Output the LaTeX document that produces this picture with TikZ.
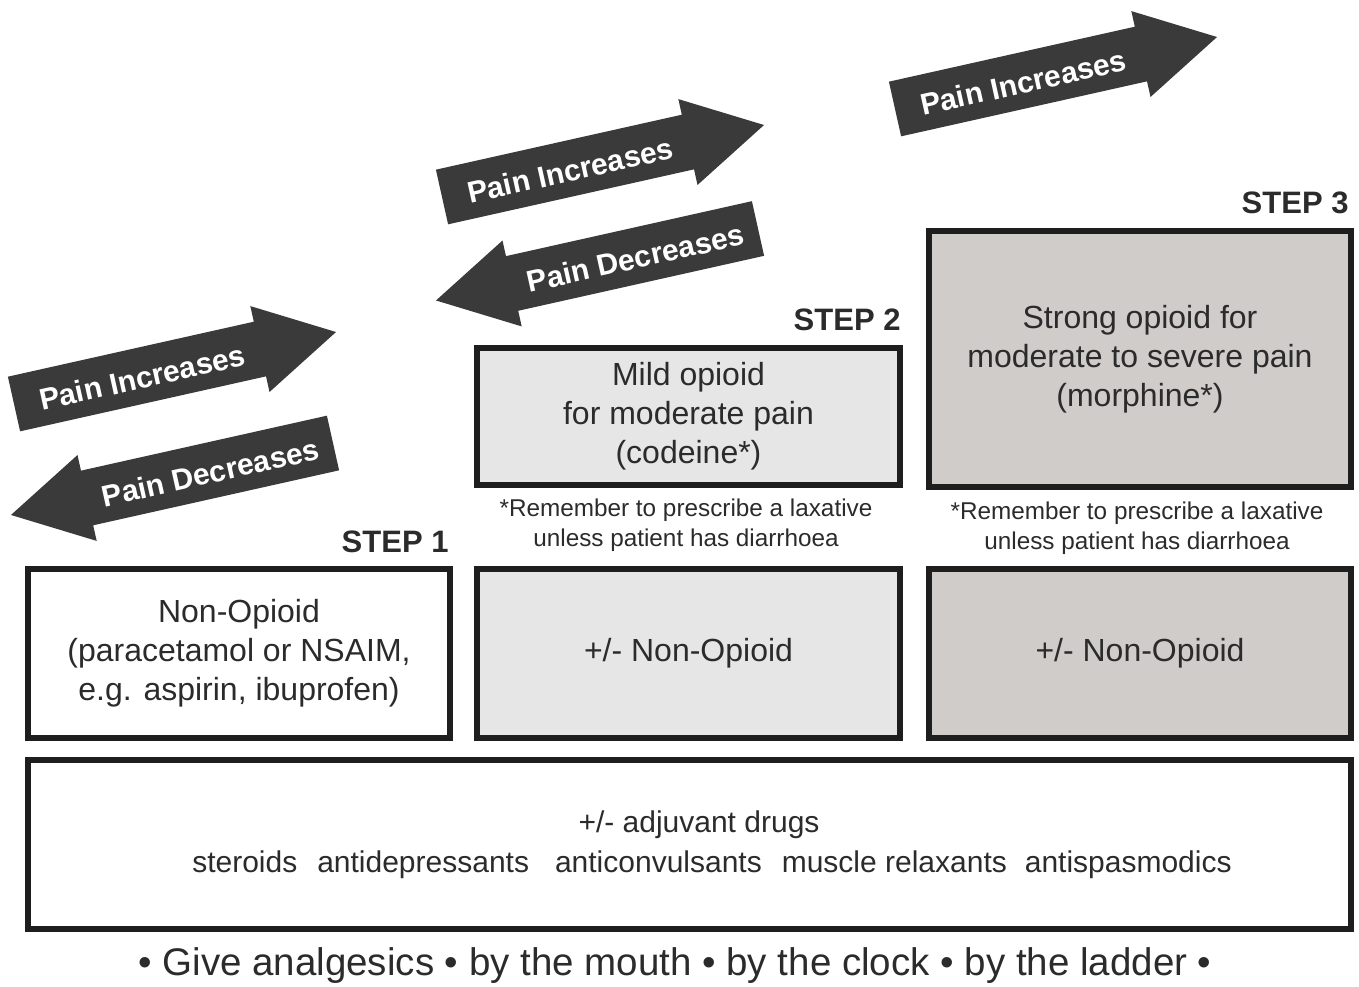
\documentclass[tikz,border=0pt]{standalone}
\usepackage{fontspec}
\setmainfont{Liberation Sans}
\usetikzlibrary{positioning,calc}
\definecolor{ink}{HTML}{2B2B2B}
\definecolor{frame}{HTML}{1E1E1E}
\definecolor{arrowgray}{HTML}{3A3A3A}
\definecolor{lightfill}{HTML}{E6E6E6}
\definecolor{midfill}{HTML}{CFCCCA}
\newcommand{\fsz}[2]{\fontsize{#1}{#2}\selectfont}
\tikzset{
  box/.style={draw=frame,line width=5.5pt,align=center,text=ink,font=\fsz{32}{39}},
  lbox/.style={box,fill=lightfill},
  mbox/.style={box,fill=midfill},
  steplbl/.style={font=\fsz{31}{36}\bfseries,text=ink,inner sep=0pt,anchor=base east},
  note/.style={font=\fsz{24.3}{30},text=ink,align=center,inner sep=0pt},
  drug/.style={font=\fsz{30}{36},text=ink,inner sep=0pt},
  arrtxt/.style={font=\fsz{30}{35}\bfseries,text=white,inner sep=0pt,transform shape},
  incarrow/.pic={
    \fill[arrowgray] (0,-28) -- (252,-28) -- (252,-44) -- (330,0) -- (252,44) -- (252,28) -- (0,28) -- cycle;
    \node[arrtxt] (-t) at (131,2) {Pain Increases};
  },
  decarrow/.pic={
    \fill[arrowgray] (0,-28) -- (-252,-28) -- (-252,-44) -- (-330,0) -- (-252,44) -- (-252,28) -- (0,28) -- cycle;
    \node[arrtxt] (-t) at (-126,2) {Pain Decreases};
  },
}
\begin{document}
\begin{tikzpicture}[x=1pt,y=-1pt]
\useasboundingbox (0,0) rectangle (1359,987);

% ladder boxes
\node[box,minimum width=422pt,minimum height=169pt] (s1) at (239,653.5) {Non-Opioid\\(paracetamol or NSAIM,\\e.g. aspirin, ibuprofen)};
\node[lbox,minimum width=423pt,minimum height=169pt] (s2) at (688.5,653.5) {+/- Non-Opioid};
\node[mbox,minimum width=422pt,minimum height=169pt] (s3) at (1140,653.5) {+/- Non-Opioid};
\node[lbox,minimum width=423pt,minimum height=137pt] (s2top) at (688.5,416.5) {Mild opioid\\for moderate pain\\(codeine*)};
\node[mbox,minimum width=422pt,minimum height=256pt] (s3top) at (1140,359) {Strong opioid for\\moderate to severe pain\\(morphine*)};
\node[box,minimum width=1323pt,minimum height=169pt] (adjbox) at (689.5,844.5) {};

% step labels
\node[steplbl] (l1) at ([shift={(-4,-14)}]s1.north east) {STEP 1};
\node[steplbl] (l2) at ([shift={(-2,-15)}]s2top.north east) {STEP 2};
\node[steplbl] (l3) at ([shift={(-5,-15)}]s3top.north east) {STEP 3};

% laxative notes
\node[note] (n2) at (686,525) {*Remember to prescribe a laxative\\unless patient has diarrhoea};
\node[note] (n3) at (1137,528.5) {*Remember to prescribe a laxative\\unless patient has diarrhoea};

% adjuvants
\node[drug] (adj) at (699,825) {+/- adjuvant drugs};
\node[drug] (drugs) at (712,865) {steroids\hspace{20pt}antidepressants\hspace{26pt}anticonvulsants\hspace{20pt}muscle relaxants\hspace{18pt}antispasmodics};

% pain arrows
\pic[rotate=12.6] (up1) at (14,404) {incarrow};
\pic[rotate=12.6] (dn1) at (333,443) {decarrow};
\pic[rotate=12.6] (up2) at (442,197) {incarrow};
\pic[rotate=12.6] (dn2) at (758,228.5) {decarrow};
\pic[rotate=12.6] (up3) at (895,109) {incarrow};

\node[font=\fsz{38.5}{44},text=ink] (motto) at (675,966) {\textbullet\ Give analgesics \textbullet\ by the mouth \textbullet\ by the clock \textbullet\ by the ladder \textbullet};
\end{tikzpicture}
\end{document}
